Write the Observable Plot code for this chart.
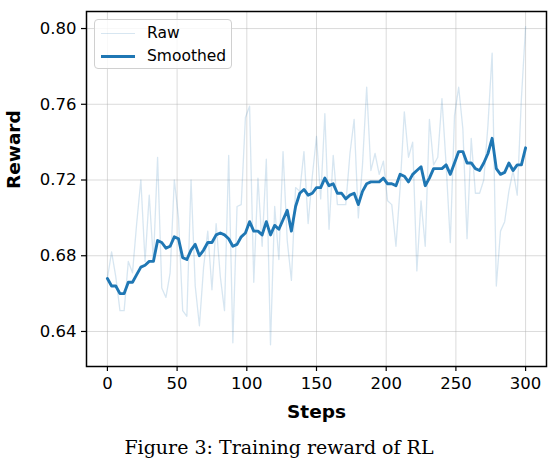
<!DOCTYPE html>
<html>
<head>
<meta charset="utf-8">
<script src="https://cdn.jsdelivr.net/npm/d3@7"></script>
<script src="https://cdn.jsdelivr.net/npm/@observablehq/plot@0.6"></script>
<style>
  body { margin: 0; background: white; }
  #wrap { position: relative; width: 558px; }
  #chart svg { display: block; }
  #legend {
    position: absolute; left: 94px; top: 19px; width: 138px; height: 50px;
    border: 1px solid #d0d0d0; border-radius: 4px; background: rgba(255,255,255,0.8);
    font-family: "DejaVu Sans"; font-size: 15.5px; box-sizing: border-box;
  }
  #legend .row { position: absolute; left: 6px; height: 20px; display: flex; align-items: center; }
  #legend .sw { width: 34px; margin-right: 12px; }
  #caption {
    text-align: center; font-family: "DejaVu Serif"; font-size: 19px;
    margin-top: 11px; line-height: 24px; width: 558px;
  }
</style>
</head>
<body>
<div id="wrap">
  <div id="chart"></div>
  <div id="legend">
    <div class="row" style="top:3px"><div class="sw" style="border-top:1.5px solid rgba(31,119,180,0.18)"></div>Raw</div>
    <div class="row" style="top:26px"><div class="sw" style="border-top:3px solid #1f77b4"></div>Smoothed</div>
  </div>
  <div id="caption">Figure 3: Training reward of RL</div>
</div>
<script>
// training steps (every 3rd step logged)
let steps = [0,3,6,9,12,15,18,21,24,27,30,33,36,39,42,45,48,51,54,57,
  60,63,66,69,72,75,78,81,84,87,90,93,96,99,102,105,108,111,114,117,
  120,123,126,129,132,135,138,141,144,147,150,153,156,159,162,165,168,171,174,177,
  180,183,186,189,192,195,198,201,204,207,210,213,216,219,222,225,228,231,234,237,
  240,243,246,249,252,255,258,261,264,267,270,273,276,279,282,285,288,291,294,297,300]

let raw = [0.668,0.682,0.669,0.651,0.651,0.677,0.671,0.697,0.720,0.677,0.712,0.677,0.732,0.663,0.658,0.671,0.720,0.700,0.651,0.648,
  0.720,0.664,0.643,0.674,0.693,0.662,0.697,0.669,0.651,0.733,0.634,0.706,0.707,0.753,0.759,0.666,0.721,0.685,0.731,0.633,
  0.706,0.678,0.735,0.688,0.667,0.716,0.714,0.735,0.697,0.722,0.743,0.710,0.755,0.694,0.733,0.707,0.707,0.707,0.734,0.752,
  0.700,0.728,0.769,0.725,0.734,0.723,0.730,0.709,0.707,0.685,0.716,0.756,0.732,0.740,0.672,0.709,0.685,0.752,0.728,0.732,
  0.763,0.728,0.687,0.754,0.769,0.747,0.689,0.742,0.713,0.713,0.720,0.749,0.787,0.664,0.693,0.698,0.714,0.725,0.712,0.763,0.801]

let smoothed = [0.668,0.664,0.664,0.660,0.660,0.666,0.666,0.670,0.674,0.675,0.677,0.677,0.688,0.687,0.684,0.685,0.690,0.689,0.679,0.678,
  0.683,0.686,0.680,0.683,0.687,0.687,0.691,0.692,0.691,0.689,0.685,0.686,0.690,0.692,0.698,0.693,0.693,0.691,0.698,0.691,
  0.696,0.694,0.699,0.704,0.693,0.706,0.713,0.715,0.712,0.713,0.716,0.716,0.721,0.717,0.718,0.713,0.713,0.710,0.712,0.713,
  0.707,0.714,0.718,0.719,0.719,0.719,0.721,0.718,0.718,0.717,0.723,0.722,0.719,0.723,0.725,0.727,0.717,0.721,0.726,0.726,
  0.726,0.728,0.723,0.729,0.735,0.735,0.729,0.729,0.726,0.725,0.729,0.734,0.742,0.726,0.723,0.724,0.729,0.725,0.728,0.728,0.737]

let xTicks = [0, 50, 100, 150, 200, 250, 300]
let yTicks = [0.64, 0.68, 0.72, 0.76, 0.80]

let data = steps.map((s, i) => ({step: s, raw: raw[i], smoothed: smoothed[i]}))

let chart = Plot.plot({
  width: 558,
  height: 424,
  marginLeft: 86,
  marginRight: 12,
  marginTop: 11,
  marginBottom: 58,
  style: {fontFamily: 'DejaVu Sans', fontSize: '16.5px', color: 'black', background: 'white'},
  x: {domain: [-15, 315]},
  y: {domain: [0.6215, 0.809]},
  marks: [
    Plot.gridX(xTicks, {stroke: '#b0b0b0', strokeOpacity: 0.45, strokeWidth: 1}),
    Plot.gridY(yTicks, {stroke: '#b0b0b0', strokeOpacity: 0.45, strokeWidth: 1}),
    Plot.lineY(data, {x: 'step', y: 'raw', stroke: '#1f77b4', strokeOpacity: 0.18, strokeWidth: 1.3}),
    Plot.lineY(data, {x: 'step', y: 'smoothed', stroke: '#1f77b4', strokeWidth: 2.9}),
    Plot.axisX({ticks: xTicks, tickSize: 5, tickPadding: 6, label: null, strokeWidth: 1.2}),
    Plot.axisY({ticks: yTicks, tickFormat: '.2f', tickSize: 5, tickPadding: 5, label: null, strokeWidth: 1.2}),
    Plot.frame({stroke: 'black', strokeWidth: 1.5}),
    Plot.text(['Steps'], {text: d => d, frameAnchor: 'bottom', dy: 51, fontWeight: 'bold', fontSize: 18.5}),
    Plot.text(['Reward'], {text: d => d, frameAnchor: 'left', dx: -72, rotate: -90, fontWeight: 'bold', fontSize: 18.5}),
  ],
})
d3.select('#chart').append(() => chart)
</script>
</body>
</html>
